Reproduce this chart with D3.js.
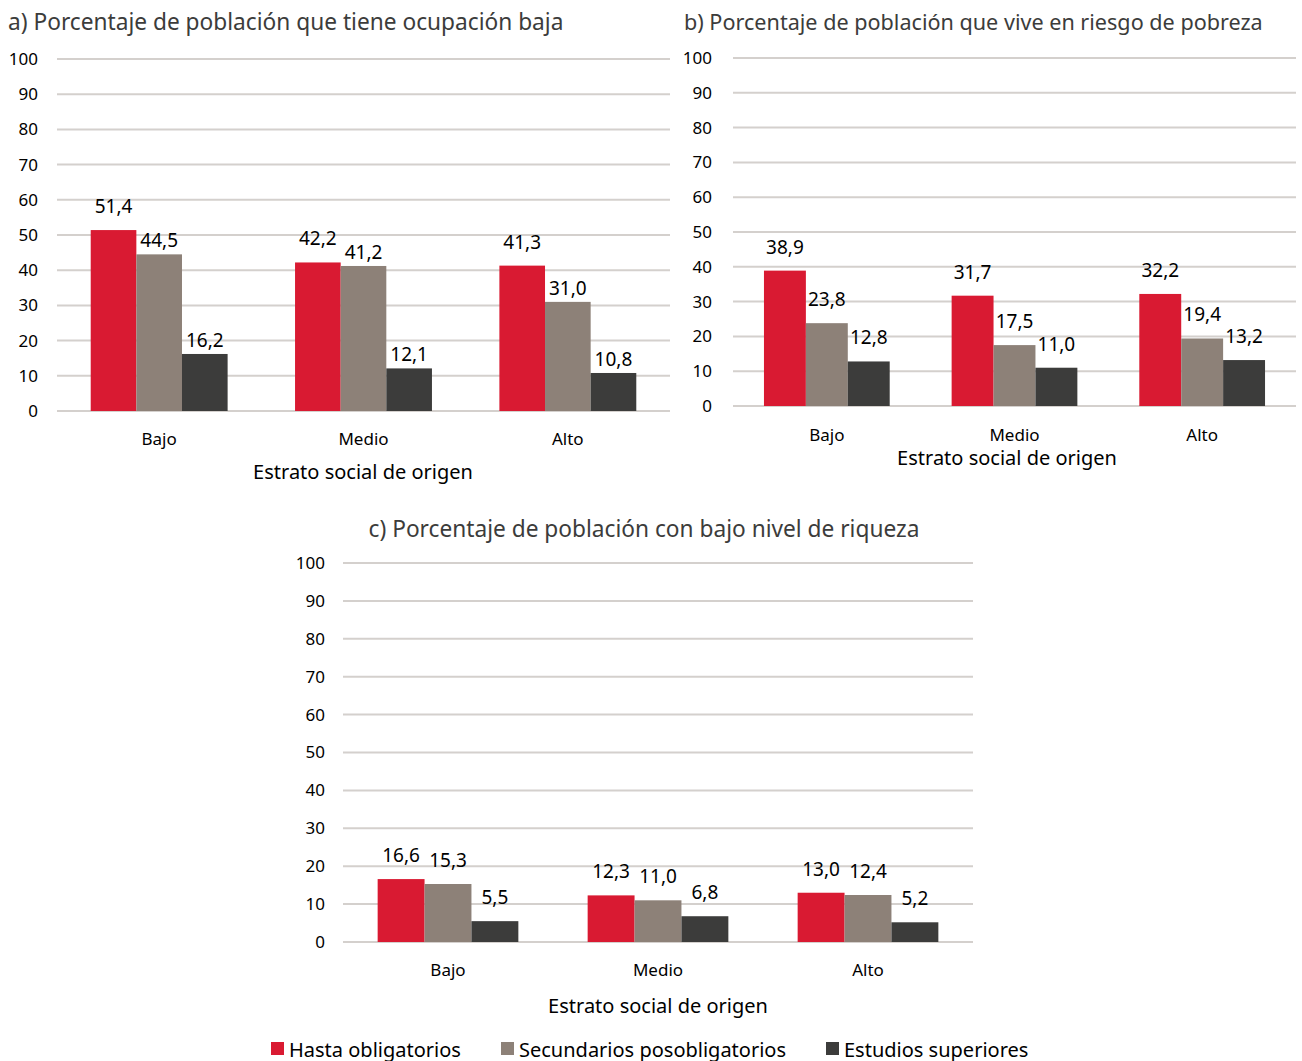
<!DOCTYPE html>
<html lang="es">
<head>
<meta charset="utf-8">
<script src="https://cdn.jsdelivr.net/npm/d3@7/dist/d3.min.js"></script>
<style>
  html, body { margin: 0; padding: 0; background: #ffffff; }
  svg { display: block; font-family: "Noto Sans", "Open Sans", sans-serif; }
</style>
</head>
<body>
<svg id="chart" width="1302" height="1061"></svg>
<script>
// Categories, series and tick values
const categories = ["Bajo", "Medio", "Alto"];
const seriesNames = ["Hasta obligatorios", "Secundarios posobligatorios", "Estudios superiores"];
const seriesColors = ["#d91a32", "#8d8178", "#3c3c3b"];
const yTicks = [0, 10, 20, 30, 40, 50, 60, 70, 80, 90, 100];
const axisTitle = "Estrato social de origen";

// a) Ocupación baja
const ocupacionHasta = [51.4, 42.2, 41.3];
const ocupacionSecundarios = [44.5, 41.2, 31.0];
const ocupacionSuperiores = [16.2, 12.1, 10.8];

// b) Riesgo de pobreza
const pobrezaHasta = [38.9, 31.7, 32.2];
const pobrezaSecundarios = [23.8, 17.5, 19.4];
const pobrezaSuperiores = [12.8, 11.0, 13.2];

// c) Bajo nivel de riqueza
const riquezaHasta = [16.6, 12.3, 13.0];
const riquezaSecundarios = [15.3, 11.0, 12.4];
const riquezaSuperiores = [5.5, 6.8, 5.2];

const panelTitles = [
  "a) Porcentaje de población que tiene ocupación baja",
  "b) Porcentaje de población que vive en riesgo de pobreza",
  "c) Porcentaje de población con bajo nivel de riqueza"
];

const svg = d3.select("#chart");
const fmt = v => d3.format(".1f")(v).replace(".", ",");

const panels = [
  { title: panelTitles[0], series: [ocupacionHasta, ocupacionSecundarios, ocupacionSuperiores],
    x0: 57, x1: 670, yTop: 59, yBot: 411, tickX: 38, catY: 438, axY: 471, axX: 363,
    titleX: 8, titleY: 21, titleAnchor: "start", titleSize: 22.7, labelGap: [24, 14, 14] },
  { title: panelTitles[1], series: [pobrezaHasta, pobrezaSecundarios, pobrezaSuperiores],
    x0: 733, x1: 1296, yTop: 58, yBot: 406, tickX: 712, catY: 434, axY: 457, axX: 1007,
    titleX: 684, titleY: 21, titleAnchor: "start", titleSize: 21.6, labelGap: [24, 24, 24] },
  { title: panelTitles[2], series: [riquezaHasta, riquezaSecundarios, riquezaSuperiores],
    x0: 343, x1: 973, yTop: 563, yBot: 942, tickX: 325, catY: 969, axY: 1005, axX: 658,
    titleX: 644, titleY: 528, titleAnchor: "middle", titleSize: 22.7, labelGap: [24, 24, 24] }
];

panels.forEach(p => {
  const g = svg.append("g");
  const x = d3.scaleBand().domain(categories).range([p.x0, p.x1])
    .paddingInner(0.33).paddingOuter(0.165);
  const xs = d3.scaleBand().domain(d3.range(seriesNames.length)).range([0, x.bandwidth()]);
  const y = d3.scaleLinear().domain([0, 100]).range([p.yBot, p.yTop]);

  // title
  g.append("text")
    .attr("x", p.titleX).attr("y", p.titleY)
    .attr("text-anchor", p.titleAnchor).attr("dominant-baseline", "central")
    .attr("font-size", p.titleSize).attr("fill", "#3c3c3b")
    .text(p.title);

  // gridlines
  g.append("g").selectAll("line").data(yTicks).join("line")
    .attr("x1", p.x0).attr("x2", p.x1)
    .attr("y1", d => y(d)).attr("y2", d => y(d))
    .attr("stroke", "#d4d0cd").attr("stroke-width", 2);

  // y axis labels
  const yAxis = d3.axisLeft(y).tickValues(yTicks).tickSize(0).tickPadding(0);
  const ya = g.append("g").attr("transform", `translate(${p.tickX},0)`).call(yAxis);
  ya.select(".domain").remove();
  ya.selectAll("text").attr("font-size", 17).attr("fill", "#000")
    .attr("font-family", "Noto Sans, sans-serif");

  // bars
  p.series.forEach((vals, si) => {
    g.append("g").selectAll("rect").data(vals).join("rect")
      .attr("x", (d, i) => x(categories[i]) + xs(si))
      .attr("y", d => y(d))
      .attr("width", xs.bandwidth())
      .attr("height", d => y(0) - y(d))
      .attr("fill", seriesColors[si]);
  });

  // value labels
  p.series.forEach((vals, si) => {
    g.append("g").selectAll("text").data(vals).join("text")
      .attr("x", (d, i) => x(categories[i]) + xs(si) + xs.bandwidth() / 2)
      .attr("y", d => y(d) - p.labelGap[si])
      .attr("text-anchor", "middle").attr("dominant-baseline", "central")
      .attr("font-size", 19).attr("fill", "#000")
      .text(d => fmt(d));
  });

  // category labels
  g.append("g").selectAll("text").data(categories).join("text")
    .attr("x", d => x(d) + x.bandwidth() / 2)
    .attr("y", p.catY)
    .attr("text-anchor", "middle").attr("dominant-baseline", "central")
    .attr("font-size", 17).attr("fill", "#000")
    .text(d => d);

  // axis title
  g.append("text")
    .attr("x", p.axX).attr("y", p.axY)
    .attr("text-anchor", "middle").attr("dominant-baseline", "central")
    .attr("font-size", 20).attr("fill", "#000")
    .text(axisTitle);
});

// legend
const legendX = [271, 501, 826];
const lg = svg.append("g").selectAll("g").data(seriesNames).join("g")
  .attr("transform", (d, i) => `translate(${legendX[i]},1042)`);
lg.append("rect").attr("width", 13).attr("height", 13).attr("fill", (d, i) => seriesColors[i]);
lg.append("text").attr("x", 18).attr("y", 7)
  .attr("dominant-baseline", "central").attr("font-size", 20).attr("fill", "#000")
  .text(d => d);
</script>
</body>
</html>
